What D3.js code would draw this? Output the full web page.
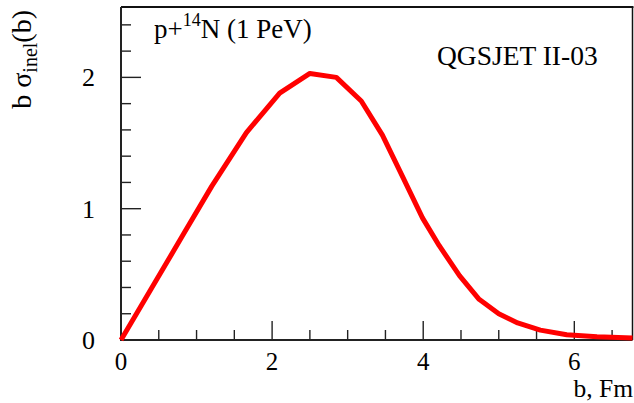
<!DOCTYPE html>
<html>
<head>
<meta charset="utf-8">
<script src="https://cdn.jsdelivr.net/npm/d3@7"></script>
<style>
  body { margin: 0; background: #fff; }
  svg { display: block; font-family: "Liberation Serif", "DejaVu Serif", serif; }
</style>
</head>
<body>
<svg id="chart" width="634" height="403"></svg>
<script>
// impact parameter b (Fm) and b*sigma_inel(b)
var bValues   = [0, 0.4, 0.8, 1.2, 1.66, 2.1, 2.5, 2.85, 3.18, 3.46, 3.73, 3.99, 4.21, 4.48, 4.74, 5.0, 5.25, 5.55, 5.9, 6.3, 6.8];
var sigValues = [0, 0.39, 0.78, 1.17, 1.58, 1.88, 2.03, 2.0, 1.82, 1.56, 1.24, 0.93, 0.72, 0.49, 0.31, 0.2, 0.13, 0.075, 0.04, 0.025, 0.015];
var xTickLabels = [0, 2, 4, 6];
var yTickLabels = [0, 1, 2];

(function() {
  var svg = d3.select('#chart');
  var plotLeft = 121, plotRight = 632.5, plotTop = 7, plotBottom = 340;
  var xMax = 6.77, yMax = 2.536;

  var x = d3.scaleLinear().domain([0, xMax]).range([plotLeft, plotRight]);
  var y = d3.scaleLinear().domain([0, yMax]).range([plotBottom, plotTop]);

  // frame
  svg.append('line').attr('x1', plotLeft).attr('x2', plotRight + 1).attr('y1', plotTop).attr('y2', plotTop)
    .attr('stroke', '#111').attr('stroke-width', 2.2);
  svg.append('line').attr('x1', plotRight).attr('x2', plotRight).attr('y1', plotTop).attr('y2', plotBottom)
    .attr('stroke', '#111').attr('stroke-width', 1.5);

  // x axis: major every 2, minor every 0.5
  var xMinor = d3.range(0, 14).map(function(i) { return i * 0.5; }).filter(function(d) { return d < xMax; });
  var gx = svg.append('g').attr('transform', 'translate(0,' + plotBottom + ')');
  gx.selectAll('line.tick').data(xMinor).enter().append('line')
    .attr('x1', function(d) { return x(d); })
    .attr('x2', function(d) { return x(d); })
    .attr('y1', 0)
    .attr('y2', function(d, i) { return i % 4 === 0 ? -19 : -10; })
    .attr('stroke', '#222').attr('stroke-width', 1.4);
  gx.selectAll('text').data(xTickLabels).enter().append('text')
    .attr('x', function(d) { return x(d); })
    .attr('y', 30)
    .attr('text-anchor', 'middle')
    .attr('font-size', 25)
    .text(function(d) { return d; });

  // y axis: major every 1, minor every 0.2
  var yMinor = d3.range(0, 14).map(function(i) { return i * 0.2; }).filter(function(d) { return d < yMax; });
  var gy = svg.append('g').attr('transform', 'translate(' + plotLeft + ',0)');
  gy.selectAll('line.tick').data(yMinor).enter().append('line')
    .attr('x1', 0)
    .attr('x2', function(d, i) { return i % 5 === 0 ? 20 : 10; })
    .attr('y1', function(d) { return y(d); })
    .attr('y2', function(d) { return y(d); })
    .attr('stroke', '#222').attr('stroke-width', 1.4);
  gy.selectAll('text').data(yTickLabels).enter().append('text')
    .attr('x', -26)
    .attr('y', function(d) { return y(d); })
    .attr('dy', '0.35em')
    .attr('text-anchor', 'end')
    .attr('font-size', 26)
    .text(function(d) { return d; });

  // axis lines
  svg.append('line').attr('x1', plotLeft).attr('x2', plotLeft).attr('y1', plotTop).attr('y2', plotBottom + 1)
    .attr('stroke', '#222').attr('stroke-width', 2);
  svg.append('line').attr('x1', plotLeft).attr('x2', plotRight).attr('y1', plotBottom).attr('y2', plotBottom)
    .attr('stroke', '#222').attr('stroke-width', 2);

  // curve
  var points = bValues.map(function(b, i) { return [b, sigValues[i]]; });
  var line = d3.line()
    .x(function(d) { return x(Math.min(d[0], xMax)); })
    .y(function(d) { return y(d[1]); });
  svg.append('path').datum(points)
    .attr('d', line)
    .attr('fill', 'none')
    .attr('stroke', '#ff0000')
    .attr('stroke-width', 5)
    .attr('stroke-linejoin', 'round');

  // labels
  var t1 = svg.append('text').attr('x', 154).attr('y', 38).attr('font-size', 27);
  t1.append('tspan').text('p+');
  t1.append('tspan').attr('font-size', 18).attr('dy', -12).text('14');
  t1.append('tspan').attr('dy', 12).text('N (1 PeV)');

  svg.append('text').attr('x', 437).attr('y', 65).attr('font-size', 27.5).text('QGSJET II-03');

  svg.append('text').attr('x', 633).attr('y', 397).attr('text-anchor', 'end')
    .attr('font-size', 25.5).text('b, Fm');

  var yt = svg.append('text')
    .attr('transform', 'translate(31,10) rotate(-90)')
    .attr('text-anchor', 'end')
    .attr('font-size', 28);
  yt.append('tspan').text('b \u03c3');
  yt.append('tspan').attr('font-size', 20).attr('dy', 6).text('inel');
  yt.append('tspan').attr('dy', -6).text('(b)');
})();
</script>
</body>
</html>
